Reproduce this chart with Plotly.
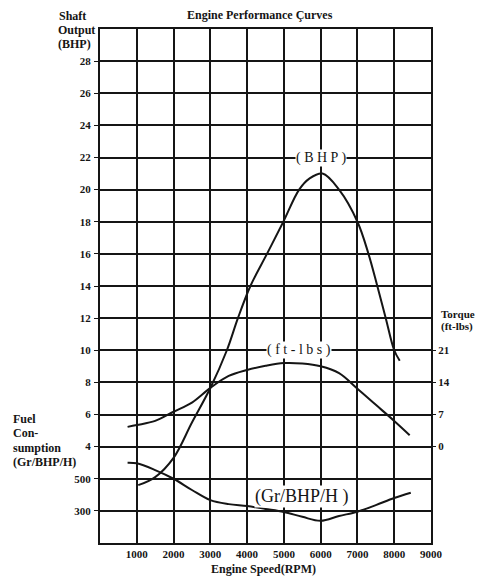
import plotly.graph_objects as go

# ---------------- data ----------------
rpm_bhp = [1040, 1500, 2000, 2500, 3000, 3450, 3750, 4090, 4540, 4985,
           5415, 5700, 6050, 6500, 7000, 7300, 7540, 7770, 8000, 8150]
bhp = [1.6, 2.1, 3.3, 5.5, 7.65, 10.0, 12.0, 14.0, 16.0, 18.0,
       20.0, 20.7, 21.0, 20.0, 18.0, 16.0, 14.0, 12.0, 10.0, 9.35]

rpm_torque = [750, 1000, 1500, 2000, 2500, 3000, 3500, 4000, 4500, 5000,
              5500, 6000, 6500, 7000, 7500, 8000, 8420]
torque = [4.3, 4.7, 5.6, 7.6, 9.6, 12.8, 15.4, 16.7, 17.6, 18.2,
          18.1, 17.5, 16.0, 12.6, 9.1, 5.6, 2.5]

rpm_fuel = [750, 1000, 1500, 2000, 2500, 3000, 3500, 4000, 4500, 5000,
            5500, 6000, 6500, 7000, 7500, 8000, 8450]
fuel = [600, 596, 554, 500, 430, 367, 342, 330, 312, 293,
        263, 238, 268, 295, 336, 380, 413]

x_ticks = [1000, 2000, 3000, 4000, 5000, 6000, 7000, 8000, 9000]
bhp_grid = [0, 2, 4, 6, 8, 10, 12, 14, 16, 18, 20, 22, 24, 26, 28]
bhp_labels = ["", "", "4", "6", "8", "10", "12", "14", "16", "18", "20",
              "22", "24", "26", "28"]
torque_ticks = [0, 7, 14, 21]
fuel_ticks = [300, 500]

# ---------------- figure ----------------
SERIF = "Liberation Serif"
INK = "#151515"
bold = dict(family=SERIF, size=11, color=INK, weight="bold")

fig = go.Figure()
line = dict(color=INK, width=2, shape="spline", smoothing=1.0)
fig.add_trace(go.Scatter(x=rpm_bhp, y=bhp, mode="lines", line=line,
                         yaxis="y", showlegend=False, hoverinfo="skip"))
fig.add_trace(go.Scatter(x=rpm_torque, y=torque, mode="lines", line=line,
                         yaxis="y2", showlegend=False, hoverinfo="skip"))
fig.add_trace(go.Scatter(x=rpm_fuel, y=fuel, mode="lines", line=line,
                         yaxis="y3", showlegend=False, hoverinfo="skip"))

# BHP range [-2, 30]; torque = (bhp-4)*3.5 ; fuel = 300 + 100*bhp
fig.update_layout(
    width=479, height=576,
    margin=dict(l=100, r=48, t=29, b=33),
    paper_bgcolor="white", plot_bgcolor="white",
    xaxis=dict(range=[0, 9000], tickvals=x_ticks, showgrid=True,
               gridcolor=INK, gridwidth=1.5, zeroline=False,
               showline=True, linecolor=INK, linewidth=2, mirror=True,
               ticks="", tickfont=bold, ticklabelstandoff=0,
               automargin=False),
    yaxis=dict(range=[-2, 30], tickvals=bhp_grid, ticktext=bhp_labels,
               showgrid=True, gridcolor=INK, gridwidth=1.5, zeroline=False,
               showline=True, linecolor=INK, linewidth=2, mirror=True,
               ticks="outside", ticklen=4, tickwidth=1.2, tickcolor=INK,
               tickfont=bold, ticklabelstandoff=1, automargin=False),
    yaxis2=dict(overlaying="y", side="right", range=[-21, 91],
                tickvals=torque_ticks, showgrid=False, zeroline=False,
                showline=False, ticks="outside", ticklen=4, tickwidth=1.2,
                tickcolor=INK, tickfont=bold, ticklabelstandoff=0,
                automargin=False),
    yaxis3=dict(overlaying="y", side="left", range=[100, 3300],
                tickvals=fuel_ticks, showgrid=False, zeroline=False,
                showline=False, ticks="outside", ticklen=4, tickwidth=1.2,
                tickcolor=INK, tickfont=bold, ticklabelstandoff=2,
                automargin=False),
)

def px2paper(px, py):
    return (px - 100) / 331.0, (543 - py) / 514.0

def label(text, px, py, size=12, anchor="left"):
    x, y = px2paper(px, py)
    fig.add_annotation(text=text, x=x, y=y, xref="paper", yref="paper",
                       xanchor=anchor, yanchor="middle", showarrow=False,
                       font=dict(family=SERIF, size=size, color=INK,
                                 weight="bold"))

label("Engine Performance Çurves", 260, 15, size=12, anchor="center")
label("Shaft", 57, 16)
label("Output", 56, 30)
label("(BHP)", 56, 44)
label("Fuel", 11, 419)
label("Con-", 11, 433)
label("sumption", 11, 448)
label("(Gr/BHP/H)", 11, 462)
label("Torque", 439, 314, size=11)
label("(ft-lbs)", 439, 327, size=11)
label("Engine Speed(RPM)", 263, 569, anchor="center")

curve_font = dict(family=SERIF, size=14, color=INK)
fig.add_annotation(text="( B H P )", x=6000, y=22, xref="x", yref="y",
                   showarrow=False, bgcolor="white", borderpad=0,
                   font=curve_font)
fig.add_annotation(text="( f t - l b s )", x=5400, y=21, xref="x", yref="y2",
                   showarrow=False, bgcolor="white", borderpad=0,
                   font=curve_font)
fig.add_annotation(text="(Gr/BHP/H )", x=5500, y=392, xref="x", yref="y3",
                   showarrow=False, bgcolor="white", borderpad=0,
                   font=dict(family=SERIF, size=18, color=INK))

fig.write_html("out.html", config={"displayModeBar": False},
               post_script="document.body.style.margin='0';"
                           "document.body.style.padding='0';")
